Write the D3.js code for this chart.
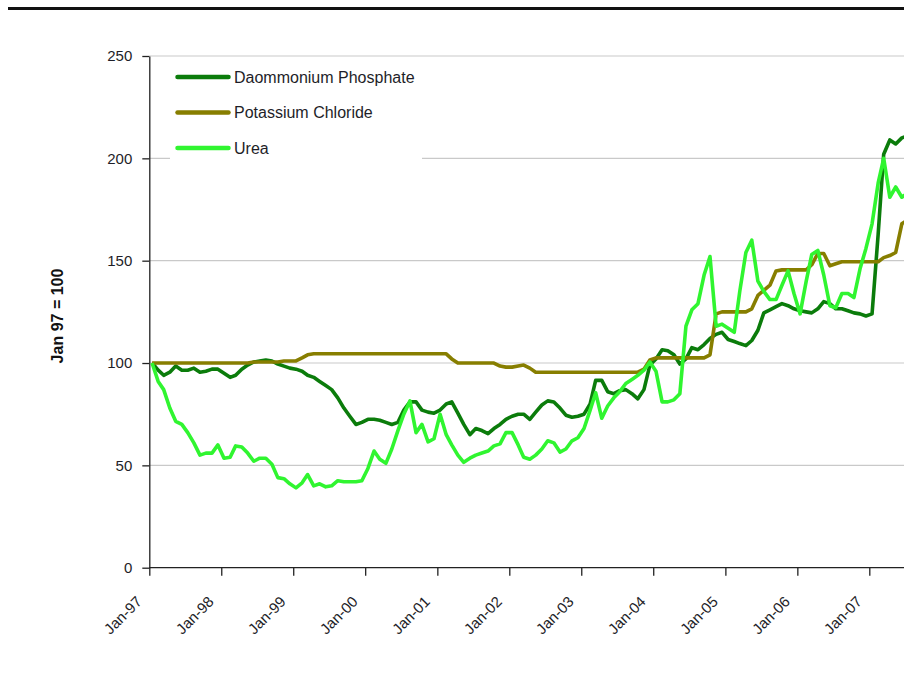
<!DOCTYPE html>
<html>
<head>
<meta charset="utf-8">
<script src="https://cdn.jsdelivr.net/npm/d3@7/dist/d3.min.js"></script>
<style>
  html, body { margin: 0; padding: 0; background: #fff; }
  svg { display: block; font-family: "Liberation Sans", Arial, sans-serif; }
</style>
</head>
<body>
<svg id="chart" width="904" height="680"></svg>
<script>
// Monthly fertilizer price indices, Jan 1997 = 100 (Jan-97 .. Jul-07)
const startYear = 1997;
const seriesNames = ["Daommonium Phosphate", "Potassium Chloride", "Urea"];
const seriesColors = ["#0b7c0b", "#877e00", "#30f530"];

const dap = [
  100, 96.5, 94, 95.5, 98.5, 96.5, 96.5, 97.5, 95.5, 96, 97, 97,
  95, 93, 94, 97, 99, 100.5, 101, 101.5, 101, 99.5, 98.5, 97.5,
  97, 96, 94, 93, 91, 89, 87, 83, 78, 74, 70, 71,
  72.5, 72.5, 72, 71, 70, 71, 77, 81, 81, 77, 76, 75.5,
  77, 80, 81, 75.5, 70, 65, 68, 67, 65.5, 68, 70, 72.5,
  74, 75, 75, 72.5, 76, 79.5, 81.5, 81, 78, 74.5, 73.5, 74,
  75, 80, 91.5, 91.5, 86, 85, 86.5, 87, 85, 82.5, 87, 99,
  102, 106.5, 106, 104, 99.5, 102, 107.5, 106.5, 109, 112, 114, 115,
  111.5, 110.5, 109.5, 108.5, 111, 116, 124.5, 126, 127.5, 129, 128, 126.5,
  125.5, 125, 124.5, 126.5, 130, 129, 126.5, 126.5, 125.5, 124.5, 124, 123,
  124, 163, 202, 209, 207, 210, 211
];

const potash = [
  100, 100, 100, 100, 100, 100, 100, 100, 100, 100, 100, 100,
  100, 100, 100, 100, 100, 100.5, 100.5, 100.5, 100.5, 100.5, 101, 101,
  101, 102.5, 104, 104.5, 104.5, 104.5, 104.5, 104.5, 104.5, 104.5, 104.5, 104.5,
  104.5, 104.5, 104.5, 104.5, 104.5, 104.5, 104.5, 104.5, 104.5, 104.5, 104.5, 104.5,
  104.5, 104.5, 102, 100, 100, 100, 100, 100, 100, 100, 98.5, 98,
  98, 98.5, 99, 97.5, 95.5, 95.5, 95.5, 95.5, 95.5, 95.5, 95.5, 95.5,
  95.5, 95.5, 95.5, 95.5, 95.5, 95.5, 95.5, 95.5, 95.5, 95.5, 97, 101.5,
  102.5, 102.5, 102.5, 102.5, 102.5, 102.5, 102.5, 102.5, 102.5, 104, 124, 125,
  125, 125, 125, 125, 126.5, 133, 135.5, 138, 145, 145.5, 145.5, 145.5,
  145.5, 145.5, 148, 153.5, 153.5, 147.5, 148.5, 149.5, 149.5, 149.5, 149.5, 149.5,
  149.5, 149.5, 151.5, 152.5, 154, 168, 170
];

const urea = [
  100, 91, 87, 78, 71.5, 70, 66, 61, 55, 56, 56, 60,
  53.5, 54, 59.5, 59, 56, 52, 53.5, 53.5, 50.5, 44, 43.5, 41,
  39, 41.5, 45.5, 40, 41, 39.5, 40, 42.5, 42, 42, 42, 42.5,
  48.5, 57, 53, 51, 58, 67, 75, 81.5, 66, 70, 61.5, 63,
  75, 65, 60, 55, 51.5, 53.5, 55, 56, 57, 59.5, 60.5, 66,
  66, 60, 54, 53, 55, 58, 62, 61, 56.5, 58, 62, 63.5,
  68, 77, 85.5, 73, 79, 83, 86, 90, 92, 94, 96.5, 100.5,
  96, 81, 81, 82, 85, 118, 126, 129, 143, 152, 118, 119,
  117, 115, 135, 154, 160, 140, 135, 131, 131, 138, 145, 134,
  124, 140, 153, 155, 143, 128, 127, 134, 134, 132, 146, 156,
  168, 188, 200, 181, 186, 181, 183
];

const yTicks = [0, 50, 100, 150, 200, 250];
const yTitle = "Jan 97 = 100";

const svg = d3.select("#chart");
const W = 904;

// Plot frame
const x0 = 149.3, y0 = 567.7, yTop = 56;
const x = d3.scaleTime()
  .domain([new Date(startYear, 0, 1), new Date(startYear + 10, 0, 1)])
  .range([x0, x0 + 720]);
const y = d3.scaleLinear().domain([0, 250]).range([y0, yTop]);

// monthly observations dated mid-month
const monthDate = i => new Date(startYear, i, 15);

// top rule
svg.append("line")
  .attr("x1", 8).attr("x2", W).attr("y1", 8.5).attr("y2", 8.5)
  .attr("stroke", "#111").attr("stroke-width", 3);

// horizontal gridlines
svg.append("g").selectAll("line")
  .data(yTicks.filter(d => d > 0))
  .join("line")
  .attr("x1", x0).attr("x2", W)
  .attr("y1", d => y(d)).attr("y2", d => y(d))
  .attr("stroke", "#c9c9c9").attr("stroke-width", 1.2);

// y axis
const yAxis = svg.append("g")
  .attr("transform", `translate(${x0},0)`)
  .call(d3.axisLeft(y).tickValues(yTicks).tickSize(7).tickSizeOuter(0).tickPadding(10));
yAxis.select(".domain").attr("stroke", "#222").attr("stroke-width", 1.3);
yAxis.selectAll(".tick line").attr("stroke", "#222").attr("stroke-width", 1.3);
yAxis.selectAll("text")
  .attr("font-size", 15).attr("fill", "#1e1e28")
  .attr("font-family", "Liberation Sans, Arial, sans-serif");

// x axis
const yearTicks = d3.range(0, 11).map(k => new Date(startYear + k, 0, 1));
const xAxis = svg.append("g")
  .attr("transform", `translate(0,${y0})`)
  .call(d3.axisBottom(x).tickValues(yearTicks).tickSize(8).tickSizeOuter(0)
    .tickFormat(d3.timeFormat("%b-%y")));
xAxis.select(".domain").remove();
xAxis.selectAll(".tick line").attr("stroke", "#222").attr("stroke-width", 1.3);
xAxis.selectAll("text")
  .attr("font-size", 15).attr("fill", "#1e1e28")
  .attr("font-family", "Liberation Sans, Arial, sans-serif")
  .attr("text-anchor", "end")
  .attr("dy", 0)
  .attr("transform", "translate(-7,35) rotate(-45)")
  .attr("y", 0).attr("x", 0);
svg.append("line")
  .attr("x1", x0).attr("x2", W).attr("y1", y0).attr("y2", y0)
  .attr("stroke", "#222").attr("stroke-width", 1.3);

// y title
svg.append("text")
  .attr("transform", `translate(63,316) rotate(-90)`)
  .attr("text-anchor", "middle")
  .attr("font-size", 16).attr("font-weight", "bold").attr("fill", "#111")
  .text(yTitle);

// series lines
const line = d3.line()
  .x((d, i) => x(monthDate(i)))
  .y(d => y(d));
const allSeries = [dap, potash, urea];
svg.append("g").selectAll("path")
  .data(allSeries)
  .join("path")
  .attr("d", d => line(d))
  .attr("fill", "none")
  .attr("stroke", (d, i) => seriesColors[i])
  .attr("stroke-width", 3.6)
  .attr("stroke-linejoin", "round");

// legend
const lg = svg.append("g");
lg.append("rect")
  .attr("x", 170).attr("y", 60).attr("width", 252).attr("height", 103)
  .attr("fill", "#fff");
const items = lg.selectAll("g.item")
  .data(seriesNames)
  .join("g").attr("class", "item")
  .attr("transform", (d, i) => `translate(0,${77 + i * 35.5})`);
items.append("line")
  .attr("x1", 177.5).attr("x2", 228.5).attr("y1", 0).attr("y2", 0)
  .attr("stroke", (d, i) => seriesColors[i]).attr("stroke-width", 4.5)
  .attr("stroke-linecap", "round");
items.append("text")
  .attr("x", 234).attr("y", 5.5)
  .attr("font-size", 16).attr("fill", "#1e1e28")
  .text(d => d);
</script>
</body>
</html>
